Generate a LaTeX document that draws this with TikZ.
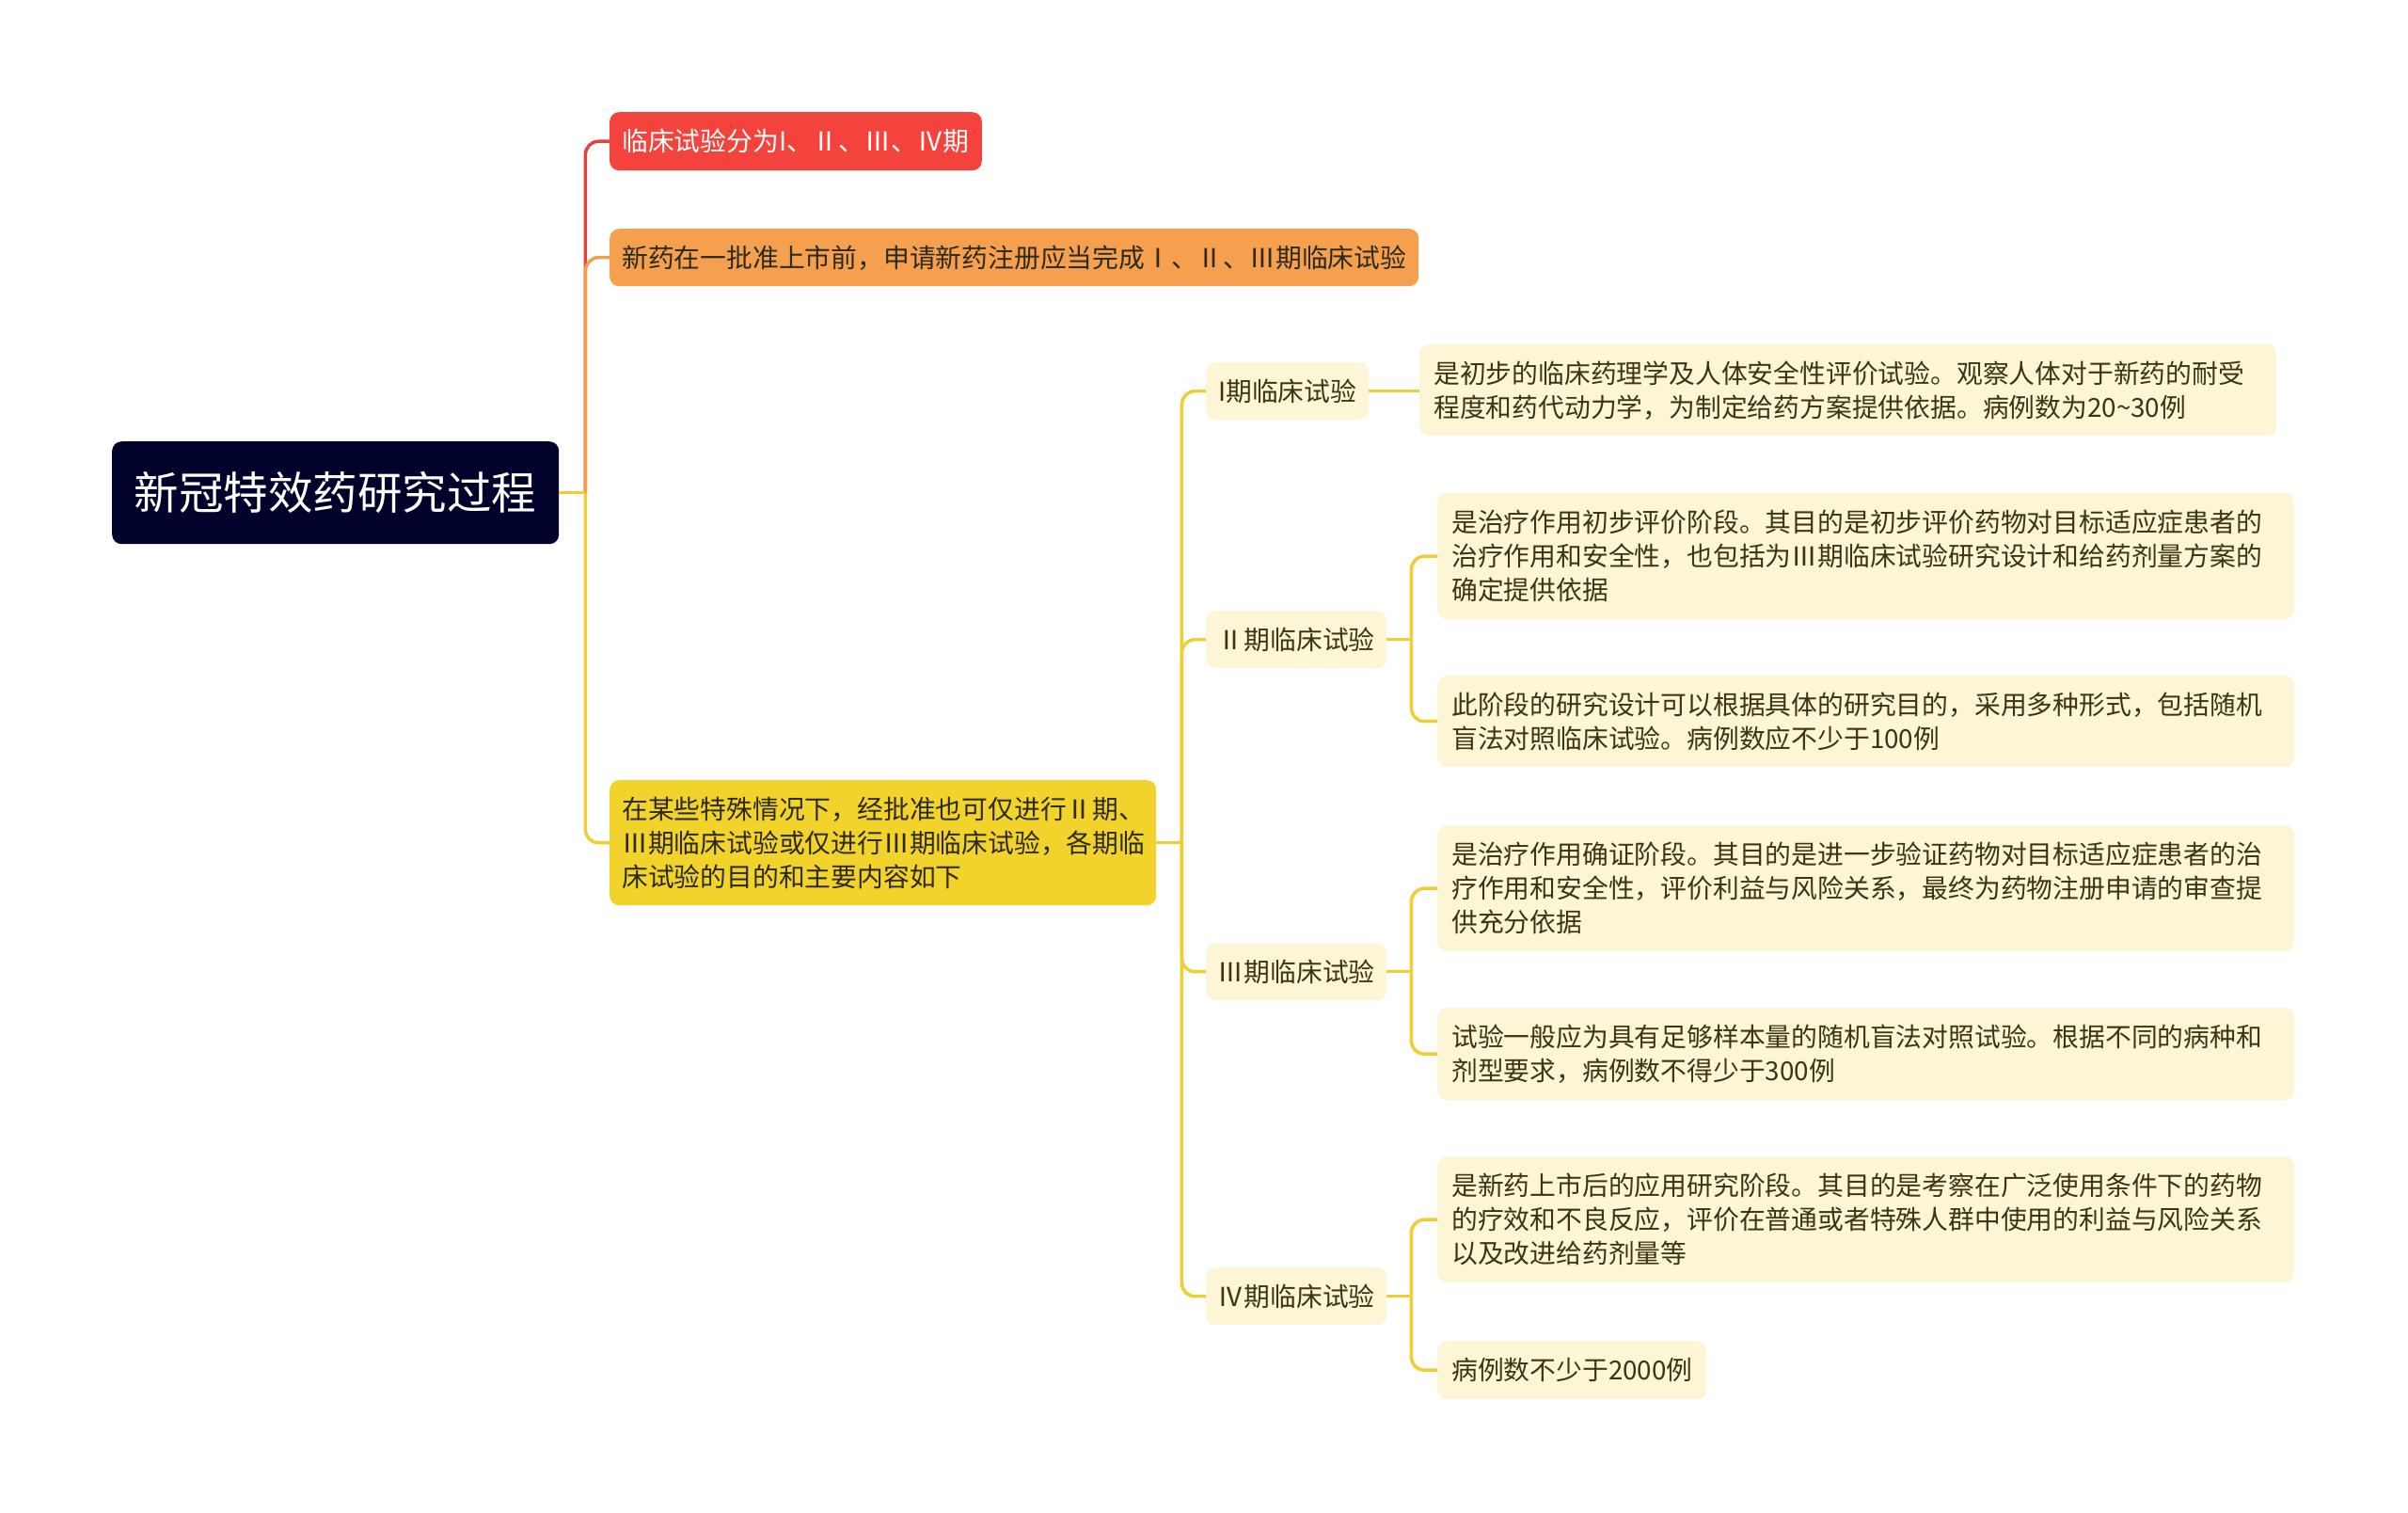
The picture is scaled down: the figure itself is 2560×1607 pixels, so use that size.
\documentclass[tikz,border=0pt]{standalone}
\usepackage{fontspec}
\setmainfont{Noto Sans CJK SC}
\definecolor{rootc}{HTML}{01022B}
\definecolor{redc}{HTML}{F4433C}
\definecolor{orangec}{HTML}{F4A04F}
\definecolor{yellowc}{HTML}{F1D32B}
\definecolor{creamc}{HTML}{FDF6D6}
\definecolor{redl}{HTML}{E0443E}
\definecolor{orangel}{HTML}{F3A04E}
\definecolor{yellowl}{HTML}{EDCF33}
\definecolor{txtc}{HTML}{3C3514}
\definecolor{txtd}{HTML}{2D2A1A}
\begin{document}
\begin{tikzpicture}[x=1pt,y=-1pt,
  box/.style={rounded corners=10pt, inner ysep=0pt, anchor=north west},
  txt/.style={font=\fontsize{27.8}{36}\selectfont},
  leaf/.style={box, txt, fill=creamc, text=txtc, align=left, inner xsep=15pt},
  mid/.style={box, txt, fill=creamc, text=txtc, align=center, inner xsep=0pt},
  conn/.style={line width=3.5pt, rounded corners=14pt},
]
\useasboundingbox (0,0) rectangle (2560,1607);
\fill[white] (0,0) rectangle (2560,1607);

% root
\node[box, fill=rootc, text=white, inner xsep=0pt, minimum width=475pt, minimum height=109pt,
  font=\fontsize{47.5}{56}\selectfont] (root) at (119,469) {新冠特效药研究过程};

% level 1
\node[box, txt, fill=redc, text=white, inner xsep=13pt, minimum height=62pt,
  minimum width=395pt] (red) at (648,119) {临床试验分为I、Ⅱ、Ⅲ、Ⅳ期};
\node[box, txt, fill=orangec, text=txtd, inner xsep=13pt, minimum height=61pt,
  minimum width=859pt] (org) at (648,243) {新药在一批准上市前，申请新药注册应当完成Ⅰ、Ⅱ、Ⅲ期临床试验};
\node[box, txt, fill=yellowc, text=txtd, align=left, inner xsep=13pt, text width=555pt,
  minimum height=133pt] (yel) at (648,829)
  {在某些特殊情况下，经批准也可仅进行Ⅱ期、\\Ⅲ期临床试验或仅进行Ⅲ期临床试验，各期临\\床试验的目的和主要内容如下};

% level 2
\node[mid, minimum width=173pt, minimum height=61pt] (p1) at (1282,385) {I期临床试验};
\node[mid, minimum width=192pt, minimum height=61pt] (p2) at (1282,649) {Ⅱ期临床试验};
\node[mid, minimum width=192pt, minimum height=61pt] (p3) at (1282,1002) {Ⅲ期临床试验};
\node[mid, minimum width=192pt, minimum height=61pt] (p4) at (1282,1347) {Ⅳ期临床试验};

% level 3
\node[leaf, text width=881pt, minimum height=97pt] (d1) at (1509,366)
  {是初步的临床药理学及人体安全性评价试验。观察人体对于新药的耐受\\程度和药代动力学，为制定给药方案提供依据。病例数为20{\char"7E}30例};
\node[leaf, text width=881pt, minimum height=134pt] (d2a) at (1528,524)
  {是治疗作用初步评价阶段。其目的是初步评价药物对目标适应症患者的\\治疗作用和安全性，也包括为Ⅲ期临床试验研究设计和给药剂量方案的\\确定提供依据};
\node[leaf, text width=881pt, minimum height=97pt] (d2b) at (1528,718)
  {此阶段的研究设计可以根据具体的研究目的，采用多种形式，包括随机\\盲法对照临床试验。病例数应不少于100例};
\node[leaf, text width=881pt, minimum height=134pt] (d3a) at (1528,877)
  {是治疗作用确证阶段。其目的是进一步验证药物对目标适应症患者的治\\疗作用和安全性，评价利益与风险关系，最终为药物注册申请的审查提\\供充分依据};
\node[leaf, text width=881pt, minimum height=98pt] (d3b) at (1528,1071)
  {试验一般应为具有足够样本量的随机盲法对照试验。根据不同的病种和\\剂型要求，病例数不得少于300例};
\node[leaf, text width=881pt, minimum height=134pt] (d4a) at (1528,1229)
  {是新药上市后的应用研究阶段。其目的是考察在广泛使用条件下的药物\\的疗效和不良反应，评价在普通或者特殊人群中使用的利益与风险关系\\以及改进给药剂量等};
\node[leaf, minimum height=62pt] (d4b) at (1528,1425) {病例数不少于2000例};

% connectors level 1
\coordinate (j1) at ([xshift=28pt]root.east);
\draw[conn, redl] (j1) |- (red.west);
\draw[conn, orangel] (j1) |- (org.west);
\draw[conn, yellowl] (j1) |- (yel.west);
\draw[line width=3.5pt, yellowl] (root.east) -- (j1);

% connectors level 2
\coordinate (j2) at ([xshift=27pt]yel.east);
\draw[line width=3.5pt, yellowl] (yel.east) -- (j2);
\foreach \n in {p1,p2,p3,p4}{\draw[conn, yellowl] (j2) |- (\n.west);}

% connectors level 3
\draw[line width=3.5pt, yellowl] (p1.east) -- (p1.east -| d1.west);
\coordinate (j3) at ([xshift=26pt]p2.east);
\draw[line width=3.5pt, yellowl] (p2.east) -- (j3);
\draw[conn, yellowl] (j3) |- (d2a.west);
\draw[conn, yellowl] (j3) |- (d2b.west);
\coordinate (j4) at ([xshift=26pt]p3.east);
\draw[line width=3.5pt, yellowl] (p3.east) -- (j4);
\draw[conn, yellowl] (j4) |- (d3a.west);
\draw[conn, yellowl] (j4) |- (d3b.west);
\coordinate (j5) at ([xshift=26pt]p4.east);
\draw[line width=3.5pt, yellowl] (p4.east) -- (j5);
\draw[conn, yellowl] (j5) |- (d4a.west);
\draw[conn, yellowl] (j5) |- (d4b.west);
\end{tikzpicture}
\end{document}
